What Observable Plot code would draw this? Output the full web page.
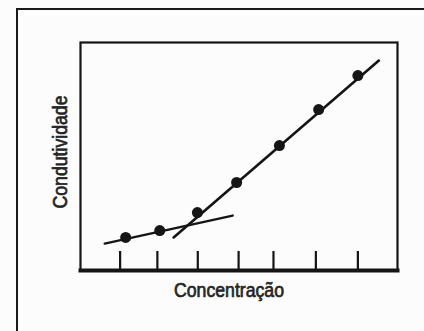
<!DOCTYPE html>
<html>
<head>
<meta charset="utf-8">
<script src="https://cdn.jsdelivr.net/npm/d3@7"></script>
<script src="https://cdn.jsdelivr.net/npm/@observablehq/plot@0.6"></script>
<style>
  html, body { margin: 0; padding: 0; background: #fcfcfc; }
  #wrap { position: relative; width: 424px; height: 331px; overflow: hidden; }
  #border { position: absolute; left: 16px; top: 8px; right: -4px; bottom: -4px;
            border-top: 2px solid #1a1a1a; border-left: 2px solid #1a1a1a; }
  #chart { position: absolute; left: 0; top: 0; }
</style>
</head>
<body>
<div id="wrap"><div id="border"></div><div id="chart"></div></div>
<script>
// Concentration (x) and conductivity (y)
const concentration = [1.14, 2.0, 2.95, 3.94, 5.02, 6.01, 7.0];
const conductivity  = [1.45, 1.75, 2.54, 3.86, 5.48, 7.06, 8.55];
// tick positions on the concentration axis
const tickValues = [1, 1.94, 2.96, 3.99, 4.87, 5.94, 7];
// fitted lines: shallow segment and steep segment
const lineShallowX = [0.61, 3.84];
const lineShallowY = [1.18, 2.41];
const lineSteepX = [2.35, 7.53];
const lineSteepY = [1.45, 9.21];
// axis titles
const yTitle = ["Condutividade"];
const xTitle = ["Concentração"];

const points = concentration.map((c, i) => ({x: c, y: conductivity[i]}));
const shallow = lineShallowX.map((c, i) => ({x: c, y: lineShallowY[i]}));
const steep = lineSteepX.map((c, i) => ({x: c, y: lineSteepY[i]}));

const ink = "#151515";
const font = "'Liberation Sans', Arial, sans-serif";

const chart = Plot.plot({
  width: 424,
  height: 331,
  marginLeft: 80,
  marginRight: 27,
  marginTop: 42,
  marginBottom: 61,
  style: {background: "transparent", fontFamily: font},
  x: {domain: [0, 8], axis: null},
  y: {domain: [0, 10], axis: null},
  marks: [
    Plot.frame({stroke: ink, strokeWidth: 2.2}),
    Plot.frame({anchor: "bottom", stroke: ink, strokeWidth: 4}),
    Plot.ruleX(tickValues, {stroke: ink, strokeWidth: 2.2, insetTop: 209}),
    Plot.line(shallow, {x: "x", y: "y", stroke: ink, strokeWidth: 2.4}),
    Plot.line(steep, {x: "x", y: "y", stroke: ink, strokeWidth: 2.6}),
    Plot.dot(points, {x: "x", y: "y", r: 5.5, fill: ink, stroke: "none"}),
    Plot.text(yTitle, {frameAnchor: "left", dx: -20, dy: -4.5, rotate: -90,
      textAnchor: "middle", lineAnchor: "middle", fontSize: 19.5, fill: "#252525",
      stroke: "#252525", strokeWidth: 0.7, fontFamily: font, className: "ytitle"}),
    Plot.text(xTitle, {frameAnchor: "bottom", dx: -10, dy: 20,
      textAnchor: "middle", lineAnchor: "middle", fontSize: 19.5, fill: "#252525",
      stroke: "#252525", strokeWidth: 0.7, fontFamily: font, className: "xtitle"})
  ]
});
// condense the title glyphs like the reference's narrow typeface
chart.querySelectorAll(".ytitle text").forEach(t => {
  t.setAttribute("textLength", 113); t.setAttribute("lengthAdjust", "spacingAndGlyphs");
});
chart.querySelectorAll(".xtitle text").forEach(t => {
  t.setAttribute("textLength", 110); t.setAttribute("lengthAdjust", "spacingAndGlyphs");
});
document.getElementById("chart").appendChild(chart);
</script>
</body>
</html>
